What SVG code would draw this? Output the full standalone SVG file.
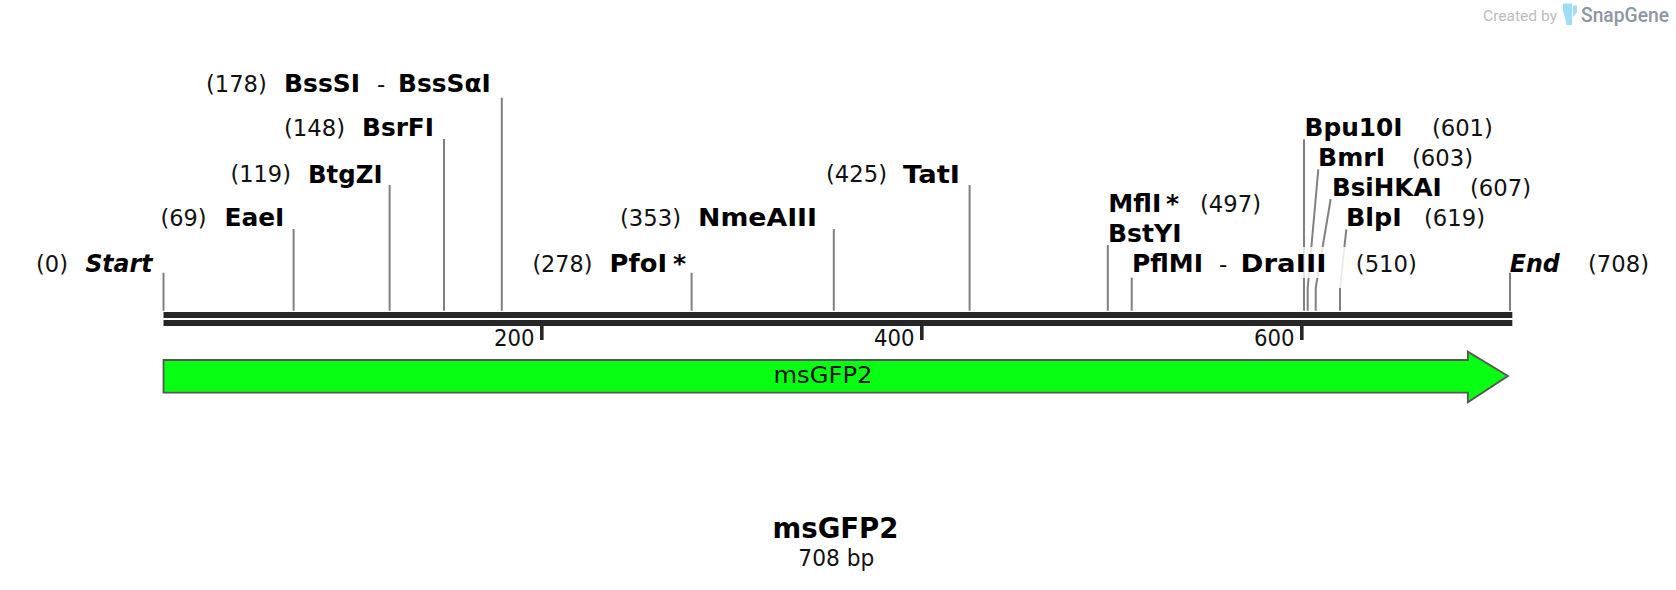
<svg xmlns="http://www.w3.org/2000/svg" width="1676" height="590" viewBox="0 0 1676 590">
<style>
text{font-family:"DejaVu Sans",Verdana,sans-serif;fill:#111}
.p{font-size:23px}
.n{font-size:25px;font-weight:bold;fill:#000}
.i{font-size:25px;font-weight:bold;font-style:italic;fill:#000}
.t{font-size:22.5px}
.c{fill:none;stroke:#808080;stroke-width:2}
.b{fill:#262626}
</style>
<rect width="1676" height="590" fill="#fff"/>
<g id="connectors">
<path class="c" d="M163.5 272.7V310.7"/>
<path class="c" d="M293.6 229V310.7"/>
<path class="c" d="M389.6 185V310.7"/>
<path class="c" d="M444 139V310.7"/>
<path class="c" d="M501.8 97.7V310.7"/>
<path class="c" d="M691.6 272.7V310.7"/>
<path class="c" d="M833.8 229V310.7"/>
<path class="c" d="M969.6 185V310.7"/>
<path class="c" d="M1107.8 245V310.7"/>
<path class="c" d="M1131.7 277.7V310.7"/>
<path class="c" d="M1304 139.3V310.7"/>
<path class="c" d="M1318.3 169.3L1307.7 288V310.7"/>
<path class="c" d="M1330.7 199L1315.7 288V310.7"/>
<path class="c" d="M1346.3 229.3L1340 288V310.7"/>
<path class="c" d="M1510 272.7V310.7"/>
<rect x="1298" y="247" width="38" height="31" fill="#fff" fill-opacity=".8"/>
<rect x="1336" y="247" width="16" height="41" fill="#fff" fill-opacity=".85"/>
</g>
<g id="backbone">
<rect class="b" x="163.5" y="312" width="1348.8" height="6"/>
<rect class="b" x="163.5" y="320" width="1348.8" height="6"/>
<rect class="b" x="540" y="326" width="3.6" height="14"/>
<rect class="b" x="920" y="326" width="3.6" height="14"/>
<rect class="b" x="1300" y="326" width="3.6" height="14"/>
<text class="t" x="494" y="345.7" textLength="40.5" lengthAdjust="spacingAndGlyphs">200</text>
<text class="t" x="874" y="345.7" textLength="40.5" lengthAdjust="spacingAndGlyphs">400</text>
<text class="t" x="1254" y="345.7" textLength="40.5" lengthAdjust="spacingAndGlyphs">600</text>
</g>
<g id="feature-msGFP2">
<path d="M163.5 360H1467.8V351.7L1508 376L1467.8 402.3V392.7H163.5Z" fill="#08ff14" stroke="#555" stroke-width="1.8"/>
<text class="t" x="773.5" y="383" textLength="99" lengthAdjust="spacingAndGlyphs">msGFP2</text>
</g>
<g transform="translate(-1 0)">
<g id="site-start"><text class="p" x="37" y="272" textLength="32" lengthAdjust="spacingAndGlyphs">(0)</text><text class="i" x="86.4" y="272" textLength="67" lengthAdjust="spacingAndGlyphs">Start</text></g>
<g id="site-EaeI"><text class="p" x="161.4" y="226" textLength="46" lengthAdjust="spacingAndGlyphs">(69)</text><text class="n" x="225.4" y="226" textLength="60" lengthAdjust="spacingAndGlyphs">EaeI</text></g>
<g id="site-BtgZI"><text class="p" x="231.4" y="182" textLength="60.6" lengthAdjust="spacingAndGlyphs">(119)</text><text class="n" x="309" y="182.7" textLength="74.5" lengthAdjust="spacingAndGlyphs">BtgZI</text></g>
<g id="site-BsrFI"><text class="p" x="285" y="136" textLength="61" lengthAdjust="spacingAndGlyphs">(148)</text><text class="n" x="363" y="136" textLength="72" lengthAdjust="spacingAndGlyphs">BsrFI</text></g>
<g id="site-BssSI"><text class="p" x="207" y="92.3" textLength="60.8" lengthAdjust="spacingAndGlyphs">(178)</text><text class="n" x="285" y="92.3" textLength="76" lengthAdjust="spacingAndGlyphs">BssSI</text><text class="p" x="378" y="92.3">-</text><text class="n" x="399" y="92.3" textLength="92.7" lengthAdjust="spacingAndGlyphs">BssSαI</text></g>
<g id="site-PfoI"><text class="p" x="533.4" y="272" textLength="60" lengthAdjust="spacingAndGlyphs">(278)</text><text class="n" x="610.6" y="272" textLength="57.4" lengthAdjust="spacingAndGlyphs">PfoI</text><text class="n" x="674" y="272">*</text></g>
<g id="site-NmeAIII"><text class="p" x="621" y="226" textLength="61" lengthAdjust="spacingAndGlyphs">(353)</text><text class="n" x="699" y="226" textLength="119" lengthAdjust="spacingAndGlyphs">NmeAIII</text></g>
<g id="site-TatI"><text class="p" x="827" y="182" textLength="61" lengthAdjust="spacingAndGlyphs">(425)</text><text class="n" x="904" y="182.7" textLength="57" lengthAdjust="spacingAndGlyphs">TatI</text></g>
<g id="site-MflI"><text class="n" x="1109.3" y="211.7" textLength="53" lengthAdjust="spacingAndGlyphs">MflI</text><text class="n" x="1167" y="211.7">*</text><text class="p" x="1201" y="211.7" textLength="61" lengthAdjust="spacingAndGlyphs">(497)</text></g>
<g id="site-BstYI"><text class="n" x="1109" y="241.7" textLength="73.5" lengthAdjust="spacingAndGlyphs">BstYI</text></g>
<g id="site-PflMI"><text class="n" x="1133" y="271.7" textLength="71" lengthAdjust="spacingAndGlyphs">PflMI</text><text class="p" x="1220" y="271.7">-</text><text class="n" x="1241.6" y="271.7" textLength="85.8" lengthAdjust="spacingAndGlyphs">DraIII</text><text class="p" x="1356.8" y="271.7" textLength="61" lengthAdjust="spacingAndGlyphs">(510)</text></g>
<g id="site-Bpu10I"><text class="n" x="1305.5" y="135.7" textLength="98" lengthAdjust="spacingAndGlyphs">Bpu10I</text><text class="p" x="1432.9" y="135.7" textLength="61" lengthAdjust="spacingAndGlyphs">(601)</text></g>
<g id="site-BmrI"><text class="n" x="1319" y="165.7" textLength="67" lengthAdjust="spacingAndGlyphs">BmrI</text><text class="p" x="1413" y="165.7" textLength="61" lengthAdjust="spacingAndGlyphs">(603)</text></g>
<g id="site-BsiHKAI"><text class="n" x="1333" y="196" textLength="109.6" lengthAdjust="spacingAndGlyphs">BsiHKAI</text><text class="p" x="1471" y="196" textLength="61" lengthAdjust="spacingAndGlyphs">(607)</text></g>
<g id="site-BlpI"><text class="n" x="1347" y="226" textLength="55.7" lengthAdjust="spacingAndGlyphs">BlpI</text><text class="p" x="1425" y="226" textLength="61" lengthAdjust="spacingAndGlyphs">(619)</text></g>
<g id="site-end"><text class="i" x="1510.8" y="272" textLength="50" lengthAdjust="spacingAndGlyphs">End</text><text class="p" x="1589" y="272" textLength="61" lengthAdjust="spacingAndGlyphs">(708)</text></g>
</g>
<g id="title"><text x="772.5" y="538.3" font-size="28" font-weight="bold" style="fill:#000" textLength="126" lengthAdjust="spacingAndGlyphs">msGFP2</text><text class="t" x="798.3" y="566" textLength="76" lengthAdjust="spacingAndGlyphs">708 bp</text></g>
<g id="snapgene-logo">
<text x="1483" y="21" style="font-family:Roboto,sans-serif;font-size:15.5px;fill:#bdbdbd" textLength="74" lengthAdjust="spacingAndGlyphs">Created by</text>
<path d="M1563 3.5H1572V25H1566.5Q1565 16 1563 11Z" fill="#9fdcf7"/>
<path d="M1573 5.5H1577V12L1573 17Z" fill="#9fdcf7"/>
<text x="1581" y="22" style="font-family:Roboto,sans-serif;font-size:21px;font-weight:500;fill:#8b97a2" textLength="88" lengthAdjust="spacingAndGlyphs">SnapGene</text>
</g>
</svg>
